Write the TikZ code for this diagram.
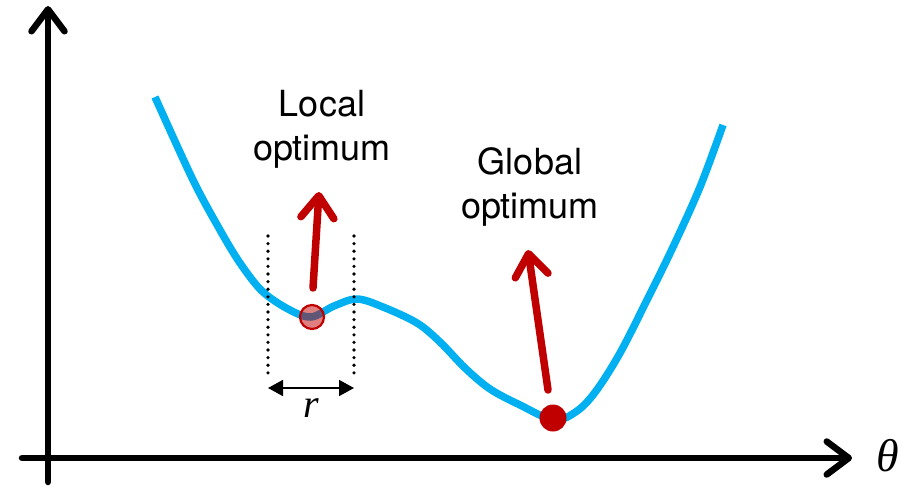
\documentclass[tikz,border=0pt]{standalone}
\usepackage{fontspec}
\setmainfont{TeX Gyre Heros}
\newfontfamily\varfont{Liberation Serif}
\usetikzlibrary{arrows.meta}
\definecolor{lsCyan}{RGB}{0,176,240}
\definecolor{lsRed}{RGB}{192,0,0}

\begin{document}
\begin{tikzpicture}[x=1pt,y=-1pt,>=Latex]
\tikzset{
axis/.style={line width=6.5pt,line cap=round,-{Straight Barb[length=22pt,width=33pt,round]}},
loss/.style={draw=lsCyan,line width=7.5pt,line cap=butt,line join=round},
push/.style={draw=lsRed,line width=7.5pt,line cap=round,-{Straight Barb[length=22pt,width=33pt,round]}},
ball/.style={circle,inner sep=0pt},
fence/.style={line width=3.6pt,line cap=round,dash pattern=on 0pt off 7.6pt},
gap/.style={line width=1.8pt,{Triangle[length=15pt,width=16pt]}-{Triangle[length=15pt,width=16pt]}},
tag/.style={font=\fontsize{36}{44}\selectfont,align=center,inner sep=0pt,anchor=north},
var/.style={font=\varfont\itshape\fontsize{46}{50}\selectfont}
}
\useasboundingbox (0,0) rectangle (915,488);

% axes
\coordinate (ybot) at (48,482);
\coordinate (ytop) at (48,6);
\coordinate (xleft) at (22,458);
\coordinate (xright) at (852,458);
\node[var] (theta) at (888,456) {θ};
\draw[axis] (ybot) -- (ytop);
\draw[axis] (xleft) -- (xright);

% loss curve
\draw[loss] plot[smooth,tension=.55] coordinates {
(155,97) (193,180) (220,230) (240,263) (262,291) (288,309) (311,317)
(334,306) (357,299) (383,307) (417,323) (440,342) (465,368) (490,389)
(520,405) (554,420) (577,411) (596,391) (620,353) (647,300) (673,247)
(700,187) (723,125)};

% window around the local optimum
\coordinate (lt) at (268,236);
\coordinate (lb) at (268,373);
\coordinate (rt) at (354,236);
\coordinate (rb) at (354,373);
\draw[fence] (lt) -- (lb);
\draw[fence] (rt) -- (rb);
\coordinate (gl) at (268,388);
\coordinate (gr) at (354,388);
\draw[gap] (gl) -- (gr);
\node[var,font=\varfont\itshape\fontsize{40}{46}\selectfont] (rad) at (311,408) {r};

% optima
\node[ball,minimum size=24pt,fill=lsRed,fill opacity=.5,draw=lsRed,line width=2.2pt] (localball) at (312,317) {};
\node[ball,minimum size=27pt,fill=lsRed] (globalball) at (553,418) {};

\node[tag] (locallab) at (322,90) {Local\\optimum};
\node[tag] (globallab) at (530,147) {Global\\optimum};

\coordinate (localtail) at (313,288);
\coordinate (localhead) at (319,192);
\coordinate (globaltail) at (548,390);
\coordinate (globalhead) at (528,250);
\draw[push] (localtail) -- (localhead);
\draw[push] (globaltail) -- (globalhead);
\end{tikzpicture}
\end{document}
